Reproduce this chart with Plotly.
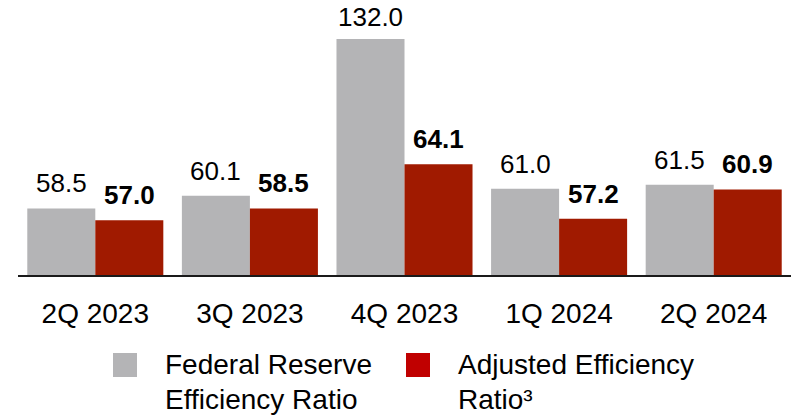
import plotly.graph_objects as go

# Quarterly efficiency ratios (%)
quarters = ["2Q 2023", "3Q 2023", "4Q 2023", "1Q 2024", "2Q 2024"]
fed_reserve_ratio = [58.5, 60.1, 132.0, 61.0, 61.5]
adjusted_ratio = [57.0, 58.5, 64.1, 57.2, 60.9]
fed_label_lines = ["Federal Reserve", "Efficiency Ratio"]
adj_label_lines = ["Adjusted Efficiency", "Ratio³"]

GRAY = "#B4B4B6"
RED_BAR = "#A01A00"
RED_KEY = "#C00000"
FONT = "Liberation Sans, Arial, sans-serif"

W, H = 796, 415
M_L, M_R, M_T, M_B = 18, 5, 39, 140
Y_RANGE = [50.1, 79.9]
BARGAP = 0.12
PLOT_W = W - M_L - M_R
PLOT_H = H - M_T - M_B


def px_x(px):
    return (px - M_L) / PLOT_W


def px_y(py):
    return (H - M_B - py) / PLOT_H


fig = go.Figure()
fig.add_bar(x=quarters, y=fed_reserve_ratio, name="Federal Reserve Efficiency Ratio",
            marker=dict(color=GRAY, line=dict(width=0)), showlegend=False)
fig.add_bar(x=quarters, y=adjusted_ratio, name="Adjusted Efficiency Ratio",
            marker=dict(color=RED_BAR, line=dict(width=0)), showlegend=False)

# value labels above each bar (tall bars are clipped at the top of the axis)
offset = (1 - BARGAP) / 4
annotations = []
for i, (g, r) in enumerate(zip(fed_reserve_ratio, adjusted_ratio)):
    annotations.append(dict(x=i - offset, y=min(g, Y_RANGE[1]), xref="x", yref="y",
                            text=f"{g:.1f}", showarrow=False, yanchor="middle",
                            yshift=25 if g <= Y_RANGE[1] else 22,
                            font=dict(family=FONT, size=26, color="#000000")))
    annotations.append(dict(x=i + offset, y=min(r, Y_RANGE[1]), xref="x", yref="y",
                            text=f"<b>{r:.1f}</b>", showarrow=False, yanchor="middle",
                            yshift=25,
                            font=dict(family=FONT, size=26, color="#000000")))

# legend: colour keys and two-line labels
shapes = []
for color, x0, text_x, lines in [(GRAY, 113, 163, fed_label_lines),
                                 (RED_KEY, 406, 456, adj_label_lines)]:
    shapes.append(dict(type="rect", xref="paper", yref="paper",
                       x0=px_x(x0), x1=px_x(x0 + 24), y0=px_y(377), y1=px_y(353),
                       fillcolor=color, line=dict(width=0)))
    for line_y, text in zip([365, 399], lines):
        annotations.append(dict(x=px_x(text_x), y=px_y(line_y), xref="paper", yref="paper",
                                text=text, showarrow=False, xanchor="left",
                                yanchor="middle", align="left",
                                font=dict(family=FONT, size=28, color="#000000")))

fig.update_layout(
    width=W, height=H,
    margin=dict(l=M_L, r=M_R, t=M_T, b=M_B),
    paper_bgcolor="white", plot_bgcolor="white",
    barmode="group", bargap=BARGAP, bargroupgap=0,
    annotations=annotations, shapes=shapes,
    xaxis=dict(showline=True, linecolor="#1a1a1a", linewidth=2, showgrid=False,
               ticks="outside", ticklen=12, tickcolor="rgba(0,0,0,0)",
               tickfont=dict(family=FONT, size=28, color="#000000")),
    yaxis=dict(range=Y_RANGE, visible=False, showgrid=False, zeroline=False),
)

fig.write_html("out.html")
